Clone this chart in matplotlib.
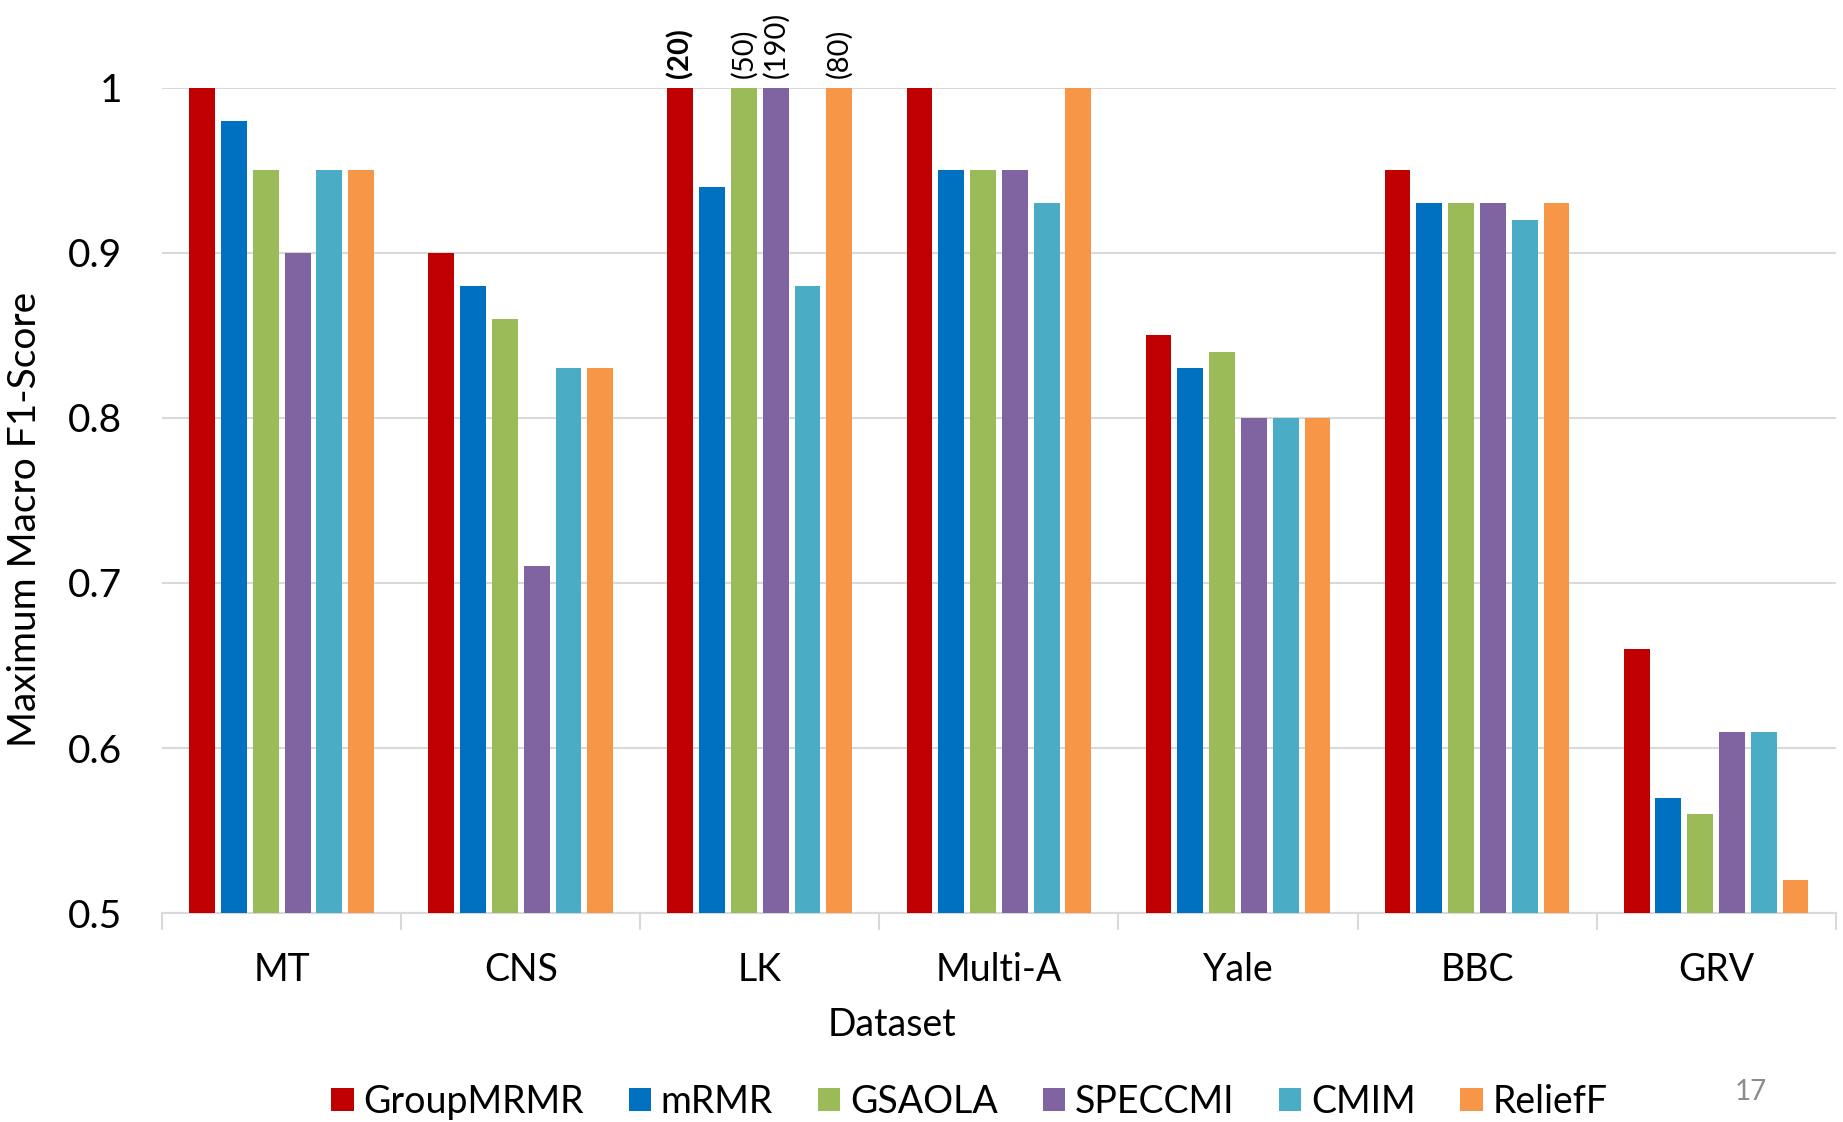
import numpy as np
import matplotlib.pyplot as plt
from matplotlib.ticker import FixedLocator, FuncFormatter

plt.rcParams['font.family'] = ['Lato', 'DejaVu Sans']

datasets = ["MT", "CNS", "LK", "Multi-A", "Yale", "BBC", "GRV"]
methods = ["GroupMRMR", "mRMR", "GSAOLA", "SPECCMI", "CMIM", "ReliefF"]
colors = ["#C00000", "#0070C0", "#9BBB59", "#8064A2", "#4BACC6", "#F79646"]

group_mrmr = [1.00, 0.90, 1.00, 1.00, 0.85, 0.95, 0.66]
mrmr = [0.98, 0.88, 0.94, 0.95, 0.83, 0.93, 0.57]
gsaola = [0.95, 0.86, 1.00, 0.95, 0.84, 0.93, 0.56]
speccmi = [0.90, 0.71, 1.00, 0.95, 0.80, 0.93, 0.61]
cmim = [0.95, 0.83, 0.88, 0.93, 0.80, 0.92, 0.61]
relieff = [0.95, 0.83, 1.00, 1.00, 0.80, 0.93, 0.52]
scores = [group_mrmr, mrmr, gsaola, speccmi, cmim, relieff]

# number of selected features shown above the LK bars (method index -> label)
lk_notes = {0: "(20)", 2: "(50)", 3: "(190)", 5: "(80)"}

fig = plt.figure(figsize=(18.43, 11.22), dpi=100)
ax = fig.add_axes([0.088, 0.186, 0.908, 0.736])

x = np.arange(len(datasets))
step = 0.133
for i, (name, vals, c) in enumerate(zip(methods, scores, colors)):
    pos = x + (i - 2.5) * step
    ax.bar(pos, np.array(vals) - 0.5, bottom=0.5, width=0.108, color=c,
           label=name, zorder=3)
    if i in lk_notes:
        ax.text(pos[2], vals[2] + 0.006, lk_notes[i], rotation=90,
                ha="center", va="bottom", fontsize=21,
                fontweight="bold" if i == 0 else "normal")

ax.set_xlim(-0.5, len(datasets) - 0.5)
ax.set_ylim(0.5, 1.0)
ax.set_yticks([0.5, 0.6, 0.7, 0.8, 0.9, 1.0])
ax.yaxis.set_major_formatter(FuncFormatter(lambda v, p: "%g" % round(v, 2)))
ax.set_xticks(x)
ax.set_xticklabels(datasets)
ax.xaxis.set_minor_locator(FixedLocator(np.arange(-0.5, len(datasets), 1.0)))
ax.tick_params(axis="x", which="major", length=0, pad=28, labelsize=27)
ax.tick_params(axis="x", which="minor", length=12, color="#D9D9D9", width=1.5)
ax.tick_params(axis="y", length=0, pad=29, labelsize=28)
ax.grid(axis="y", color="#D9D9D9", linewidth=1.5, zorder=0)
for s in ["top", "right", "left"]:
    ax.spines[s].set_visible(False)
ax.spines["bottom"].set_color("#D9D9D9")
ax.spines["bottom"].set_linewidth(1.5)

ax.set_xlabel("Dataset", fontsize=27)
ax.xaxis.set_label_coords(0.436, -0.114)
ax.set_ylabel("Maximum Macro F1-Score", fontsize=28)
ax.yaxis.set_label_coords(-0.071, 0.477)

fig.legend(loc="center", bbox_to_anchor=(0.526, 0.018), ncol=6, frameon=False,
           fontsize=27, handlelength=0.6, handleheight=0.6, handletextpad=0.25,
           columnspacing=1.2)
fig.text(0.95, 0.02, "17", color="#8C8C8C", fontsize=20, ha="center")

fig.savefig("out.png", dpi=100)
